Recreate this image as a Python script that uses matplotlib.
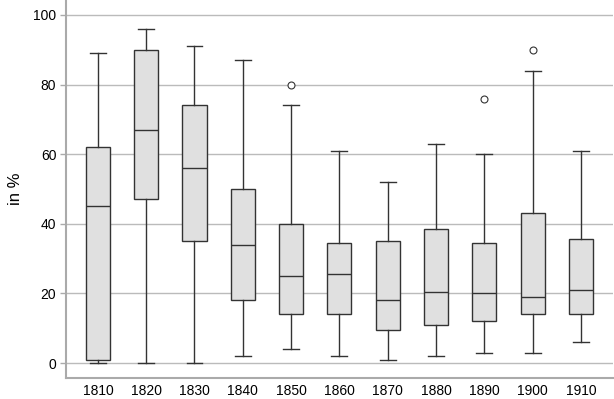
import matplotlib
matplotlib.use("Agg")
import matplotlib.pyplot as plt

decades = ["1810", "1820", "1830", "1840", "1850", "1860",
           "1870", "1880", "1890", "1900", "1910"]
whis_lo = [0, 0, 0, 2, 4, 2, 1, 2, 3, 3, 6]
q1 = [1, 47, 35, 18, 14, 14, 9.5, 11, 12, 14, 14]
median = [45, 67, 56, 34, 25, 25.5, 18, 20.5, 20, 19, 21]
q3 = [62, 90, 74, 50, 40, 34.5, 35, 38.5, 34.5, 43, 35.5]
whis_hi = [89, 96, 91, 87, 74, 61, 52, 63, 60, 84, 61]
outliers = [[], [], [], [], [80], [], [], [], [76], [90], []]

plt.rcParams["font.family"] = ["Liberation Sans", "DejaVu Sans"]

stats = []
for i, lab in enumerate(decades):
    stats.append(dict(label=lab, whislo=whis_lo[i], q1=q1[i], med=median[i],
                      q3=q3[i], whishi=whis_hi[i], fliers=outliers[i]))

fig = plt.figure(figsize=(6.14, 3.99), dpi=100)
ax = fig.add_axes([0.1075, 0.0526, 0.8905, 0.9474])

edge = "#333333"
ax.bxp(stats, widths=0.5, patch_artist=True, showfliers=True,
       boxprops=dict(facecolor="#e0e0e0", edgecolor=edge, linewidth=1.0),
       medianprops=dict(color=edge, linewidth=1.0),
       whiskerprops=dict(color=edge, linewidth=1.0),
       capprops=dict(color=edge, linewidth=1.0),
       capwidths=0.33,
       flierprops=dict(marker="o", markersize=5, markerfacecolor="white",
                       markeredgecolor=edge, markeredgewidth=0.8))

ax.set_xlim(0.34, 11.66)
ax.set_ylim(-4.3, 104.3)
ax.set_yticks([0, 20, 40, 60, 80, 100])
ax.yaxis.grid(True, color="#bbbbbb", linewidth=1.0)
ax.set_axisbelow(True)
ax.tick_params(axis="x", length=0, labelsize=10, colors="black", pad=4)
ax.tick_params(axis="y", length=4, width=1, color="#aaaaaa", labelsize=10,
               labelcolor="black", pad=3)
ax.set_ylabel("in %", fontsize=12, labelpad=7)

for s in ("top", "right"):
    ax.spines[s].set_visible(False)
for s in ("left", "bottom"):
    ax.spines[s].set_color("#aaaaaa")
    ax.spines[s].set_linewidth(1.5)

fig.savefig("out.png", dpi=100)
